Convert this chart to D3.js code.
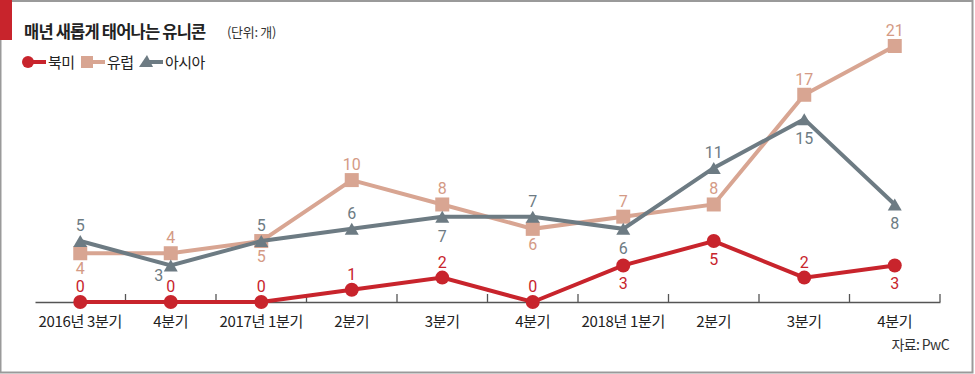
<!DOCTYPE html>
<html>
<head>
<meta charset="utf-8">
<script src="https://cdn.jsdelivr.net/npm/d3@7"></script>
<style>
  body { margin: 0; background: #fff; }
  svg { display: block; font-family: "Noto Sans CJK KR", "Noto Sans", sans-serif; }
</style>
</head>
<body>
<div id="chart"></div>
<script>
// quarters on the x axis
var quarters = ["2016년 3분기", "4분기", "2017년 1분기", "2분기", "3분기", "4분기", "2018년 1분기", "2분기", "3분기", "4분기"];

// new unicorns per quarter
var northAmerica = [0, 0, 0, 1, 2, 0, 3, 5, 2, 3];
var europe = [4, 4, 5, 10, 8, 6, 7, 8, 17, 21];
var asia = [5, 3, 5, 6, 7, 7, 6, 11, 15, 8];

// label above (1) or below (-1) each point
var naPos = [1, 1, 1, 1, 1, 1, -1, -1, 1, -1];
var euPos = [-1, 1, -1, 1, 1, -1, 1, 1, 1, 1];
var asPos = [1, -1, 1, 1, -1, 1, -1, 1, -1, -1];

var width = 975, height = 374;

var svg = d3.select("#chart").append("svg")
    .attr("width", width).attr("height", height);

// frame
svg.append("rect").attr("x", 0.5).attr("y", 1).attr("width", width - 3).attr("height", height - 2.5)
    .attr("fill", "none").attr("stroke", "#9a9a9a").attr("stroke-width", 2);
svg.append("rect").attr("x", 0).attr("y", 0).attr("width", 12).attr("height", 40).attr("fill", "#c8242c");

// title
svg.append("text").attr("x", 24).attr("y", 38)
    .attr("font-size", 16.5).attr("font-weight", "bold").attr("fill", "#222").attr("letter-spacing", -0.8)
    .text("매년 새롭게 태어나는 유니콘");
svg.append("text").attr("x", 227).attr("y", 37)
    .attr("font-size", 13).attr("fill", "#333").attr("letter-spacing", -0.3)
    .text("(단위: 개)");

var x = d3.scaleBand().domain(d3.range(quarters.length)).range([35, 940]);
var y = d3.scaleLinear().domain([0, 21]).range([302, 46]);

// axis
var axis = svg.append("g").attr("transform", "translate(0,302)")
    .call(d3.axisBottom(x).tickSize(0).tickFormat(function(d) { return quarters[d]; }));
axis.select(".domain").attr("stroke", "#555").attr("stroke-width", 1.5);
axis.selectAll("text").attr("font-size", 15).attr("fill", "#222").attr("dy", "1.45em")
    .style("font-family", "'Noto Sans CJK KR', sans-serif").attr("letter-spacing", -0.3);

// ticks at band edges
svg.selectAll("line.tick-mark").data(d3.range(1, quarters.length + 1)).enter().append("line")
    .attr("class", "tick-mark")
    .attr("x1", function(d) { return d === quarters.length ? x.range()[1] : x(d); })
    .attr("x2", function(d) { return d === quarters.length ? x.range()[1] : x(d); })
    .attr("y1", 302).attr("y2", 294)
    .attr("stroke", "#555").attr("stroke-width", 1.3);

var series = [
    { name: "유럽", values: europe, pos: euPos, color: "#d8a592", text: "#d49a85", shape: "square", below: 21 },
    { name: "아시아", values: asia, pos: asPos, color: "#6d7b83", text: "#6d7b83", shape: "triangle", below: 25 },
    { name: "북미", values: northAmerica, pos: naPos, color: "#c8242c", text: "#c8242c", shape: "circle", below: 24 }
];

var line = d3.line()
    .x(function(d, i) { return x(i) + x.bandwidth() / 2; })
    .y(function(d) { return y(d); });

function marker(g, shape, color) {
    if (shape === "circle") {
        g.append("circle").attr("r", 7).attr("fill", color);
    } else if (shape === "square") {
        g.append("rect").attr("x", -7).attr("y", -7).attr("width", 14).attr("height", 14).attr("fill", color);
    } else {
        g.append("path").attr("d", "M0,-6L7,6L-7,6Z").attr("fill", color);
    }
}

series.forEach(function(s) {
    svg.append("path").datum(s.values)
        .attr("d", line).attr("fill", "none")
        .attr("stroke", s.color).attr("stroke-width", 4);

    svg.selectAll("g.pt-" + s.shape).data(s.values).enter().append("g")
        .attr("class", "pt-" + s.shape)
        .attr("transform", function(d, i) {
            return "translate(" + (x(i) + x.bandwidth() / 2) + "," + y(d) + ")";
        })
        .each(function() { marker(d3.select(this), s.shape, s.color); });

    svg.selectAll("text.lb-" + s.shape).data(s.values).enter().append("text")
        .attr("class", "lb-" + s.shape)
        .attr("x", function(d, i) { return x(i) + x.bandwidth() / 2; })
        .attr("y", function(d, i) { return y(d) + (s.pos[i] > 0 ? -10 : s.below); })
        .attr("text-anchor", "middle").attr("font-size", 16).attr("fill", s.text)
        .style("font-family", "Roboto, 'Noto Sans', sans-serif")
        .text(function(d) { return d; });
});

// the "3" under Asia's second point sits lower-left so it clears the "0" below
svg.selectAll("text.lb-triangle").filter(function(d, i) { return i === 1; })
    .attr("dx", -12).attr("dy", -9);

// legend
var legend = [
    { name: "북미", color: "#c8242c", shape: "circle", x: 28 },
    { name: "유럽", color: "#d8a592", shape: "square", x: 87 },
    { name: "아시아", color: "#6d7b83", shape: "triangle", x: 145 }
];
var lg = svg.selectAll("g.legend").data(legend).enter().append("g")
    .attr("class", "legend")
    .attr("transform", function(d) { return "translate(" + d.x + ",62)"; });
lg.append("line").attr("x1", 0).attr("x2", 18).attr("stroke", function(d) { return d.color; }).attr("stroke-width", 4);
lg.each(function(d) {
    var g = d3.select(this).append("g");
    if (d.shape === "circle") g.append("circle").attr("r", 6).attr("fill", d.color);
    else if (d.shape === "square") g.append("rect").attr("x", -6).attr("y", -6).attr("width", 12).attr("height", 12).attr("fill", d.color);
    else g.append("path").attr("d", "M2,-7L8,5L-6,5Z").attr("fill", d.color);
});
lg.append("text").attr("x", 20).attr("y", 5.5).attr("font-size", 15).attr("fill", "#222").attr("letter-spacing", -0.5)
    .text(function(d) { return d.name; });

// source
svg.append("text").attr("x", 949).attr("y", 350).attr("text-anchor", "end")
    .attr("font-size", 14).attr("fill", "#333").attr("letter-spacing", -0.6)
    .text("자료: PwC");
</script>
</body>
</html>
